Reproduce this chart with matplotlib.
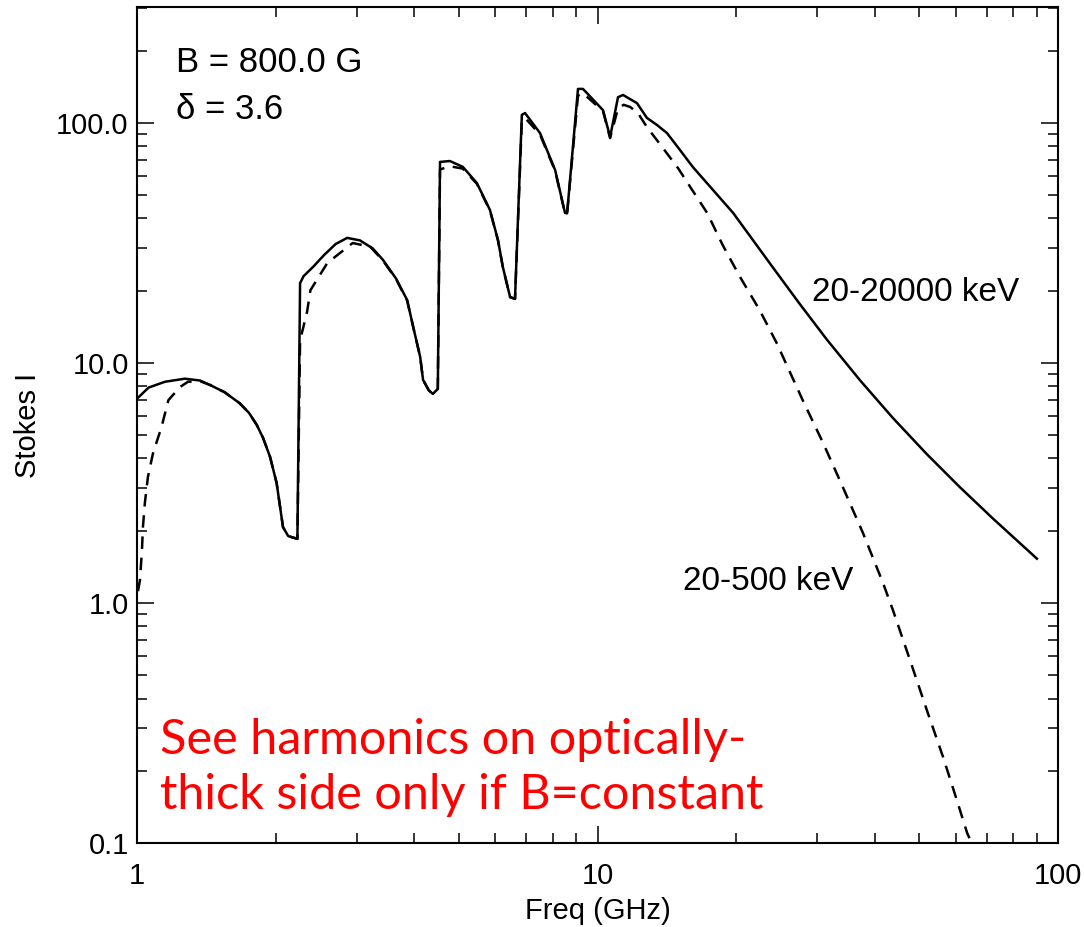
import matplotlib
matplotlib.use('Agg')
from matplotlib import pyplot as plt

# spectrum for the full electron energy range, 20-20000 keV
freq_full = [1.0, 1.06, 1.15, 1.27, 1.37, 1.44, 1.55, 1.67, 1.75, 1.82,
             1.88, 1.945, 2.01, 2.075, 2.13, 2.23, 2.26, 2.30, 2.41, 2.55,
             2.70, 2.86, 3.05, 3.25, 3.42, 3.65, 3.86, 3.98, 4.12, 4.18,
             4.30, 4.39, 4.50, 4.55, 4.78, 5.10, 5.47, 5.84, 6.08, 6.23,
             6.46, 6.62, 6.85, 6.96, 7.50, 8.09, 8.50, 8.59, 9.07, 9.30,
             10.28, 10.65, 11.08, 11.36, 12.18, 12.8, 13.47, 14.15, 15.1, 16.1,
             19.7, 24.0, 27.5, 31.5, 37.2, 43.8, 51.9, 61.2, 72.2, 90.0]
stokes_full = [7.1, 7.9, 8.35, 8.6, 8.45, 8.1, 7.55, 6.8, 6.2, 5.52,
               4.85, 4.06, 3.16, 2.07, 1.90, 1.85, 21.5, 23.0, 25.1, 28.2,
               31.3, 33.2, 32.4, 30.0, 26.9, 22.5, 18.3, 14.1, 10.6, 8.5,
               7.7, 7.43, 7.8, 68.8, 69.4, 65.6, 56.2, 43.4, 32.5, 25.1,
               18.8, 18.5, 108, 110, 90.8, 63.7, 42.2, 42.0, 138.6, 138.6,
               113, 87.4, 128, 130.8, 121, 105, 98, 90.8, 77.2, 65.6,
               42.2, 25.1, 17.6, 12.5, 8.45, 5.9, 4.17, 3.04, 2.25, 1.53]

# spectrum with the electrons cut off at 500 keV
freq_low = [1.005, 1.015, 1.025, 1.03, 1.04, 1.056, 1.083, 1.13, 1.17, 1.24,
            1.29, 1.37, 1.44, 1.55, 1.67, 1.75, 1.82, 1.88, 1.945, 2.01,
            2.075, 2.13, 2.23, 2.26, 2.28, 2.34, 2.38, 2.59, 2.94, 3.21,
            3.42, 3.65, 3.86, 3.98, 4.12, 4.18, 4.30, 4.39, 4.50, 4.55,
            4.78, 5.10, 5.47, 5.84, 6.08, 6.23, 6.46, 6.62, 6.85, 6.96,
            7.50, 8.09, 8.50, 8.59, 9.07, 9.30, 10.28, 10.65, 11.08, 11.40,
            11.77, 12.24, 12.8, 13.87, 14.97, 15.9, 17.3, 18.7, 20.4, 22.5,
            24.5, 27.9, 30.9, 34.1, 37.7, 41.7, 43.8, 47.7, 51.9, 56.3,
            60.3, 63.5, 64.5]
stokes_low = [1.12, 1.25, 1.66, 2.07, 2.61, 3.35, 4.2, 5.4, 7.0, 7.94,
              8.35, 8.4, 8.1, 7.55, 6.8, 6.2, 5.52, 4.85, 4.06, 3.16,
              2.07, 1.90, 1.85, 12.5, 13.3, 16.3, 20.1, 26.1, 31.6, 30.5,
              26.7, 22.4, 18.2, 14.1, 10.6, 8.5, 7.7, 7.43, 7.8, 64.0,
              66.0, 64.5, 55.8, 43.2, 32.4, 25.0, 18.8, 18.5, 102, 105,
              89.5, 63.2, 42.0, 42.0, 130, 133, 112, 86.5, 115, 119,
              116.6, 110, 96.2, 78.6, 64.7, 54.1, 42.2, 31.0, 22.8, 16.6,
              12.1, 7.0, 4.64, 3.04, 1.96, 1.21, 0.935, 0.579, 0.358, 0.228,
              0.151, 0.110, 0.103]

x_ticks = [1, 10, 100]
x_labels = ['1', '10', '100']
y_ticks = [0.1, 1, 10, 100]
y_labels = ['0.1', '1.0', '10.0', '100.0']

plt.rcParams['font.family'] = ['Liberation Sans', 'DejaVu Sans']

fig = plt.figure(figsize=(10.84, 9.27), dpi=100)
ax = fig.add_axes([0.1264, 0.0906, 0.8496, 0.9018])

ax.plot(freq_full, stokes_full, color='black', lw=1.8)
ax.plot(freq_low, stokes_low, color='black', lw=1.8, linestyle=(0, (5, 3.5)))

ax.set_xscale('log')
ax.set_yscale('log')
ax.set_xlim(1, 100)
ax.set_ylim(0.1, 304)

ax.set_xticks(x_ticks, labels=x_labels)
ax.set_yticks(y_ticks, labels=y_labels)
ax.tick_params(which='both', direction='in', top=True, right=True,
               labelsize=21, width=1.1)
ax.tick_params(which='major', length=12)
ax.tick_params(which='minor', length=7)
ax.tick_params(axis='x', pad=14)
ax.tick_params(axis='y', pad=6)
for side in ax.spines.values():
    side.set_linewidth(1.5)

ax.set_xlabel('Freq (GHz)', fontsize=21, labelpad=5)
ax.set_ylabel('Stokes I', fontsize=21, labelpad=10)

ax.text(0.042, 0.934, 'B = 800.0 G', transform=ax.transAxes,
        fontsize=25, va='center', ha='left')
ax.text(0.042, 0.877, '\u03b4 = 3.6', transform=ax.transAxes,
        fontsize=25, va='center', ha='left')
ax.text(0.733, 0.659, '20-20000 keV', transform=ax.transAxes,
        fontsize=24, va='center', ha='left')
ax.text(0.593, 0.313, '20-500 keV', transform=ax.transAxes,
        fontsize=24, va='center', ha='left')

ax.text(0.025, 0.123, 'See harmonics on optically-', transform=ax.transAxes,
        fontsize=35, color='red', va='center', ha='left', family='Lato')
ax.text(0.025, 0.057, 'thick side only if B=constant', transform=ax.transAxes,
        fontsize=35, color='red', va='center', ha='left', family='Lato')

fig.savefig('out.png', dpi=100)
